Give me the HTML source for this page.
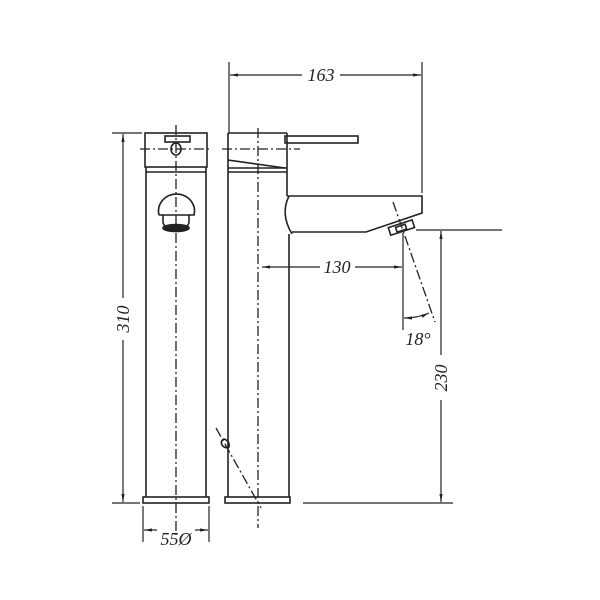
<!DOCTYPE html>
<html><head><meta charset="utf-8"><style>
html,body{margin:0;padding:0;background:#fff;width:600px;height:600px;overflow:hidden}
svg{display:block}
text{font-family:"Liberation Serif",serif;font-style:italic;font-size:18px;fill:#222}
</style></head><body>
<svg width="600" height="600" viewBox="0 0 600 600" xmlns="http://www.w3.org/2000/svg">
<defs>
<marker id="a" viewBox="0 0 10 4" refX="10" refY="2" markerWidth="8" markerHeight="3.2" markerUnits="userSpaceOnUse" orient="auto-start-reverse"><path d="M0,0 L10,2 L0,4 Z" fill="#222"/></marker>
</defs>
<g stroke="#222" fill="none" stroke-width="1.6">
<rect x="145" y="133" width="62" height="34"/>
<line x1="146" y1="167" x2="146" y2="172"/><line x1="206" y1="167" x2="206" y2="172"/>
<line x1="146" y1="172" x2="206" y2="172"/>
<line x1="146" y1="172" x2="146" y2="497"/><line x1="206" y1="172" x2="206" y2="497"/>
<rect x="143" y="497" width="66" height="6"/>
<rect x="165" y="136" width="25" height="6"/>
<ellipse cx="176" cy="149" rx="5" ry="6"/>
<path d="M159,215 A18,17 0 1 1 194,215 L159,215"/>
<path d="M163,215 L163,222 Q163,228 176,228 Q189,228 189,222 L189,215"/>
<ellipse cx="176" cy="228" rx="13" ry="3.5" fill="#222"/>
<path d="M228,133 L287,133 M228,133 L228,160 L285,168"/>
<line x1="287" y1="133" x2="287" y2="196"/>
<line x1="228" y1="160" x2="228" y2="497"/>
<line x1="228" y1="168" x2="287" y2="168"/>
<line x1="228" y1="172" x2="287" y2="172"/>
<rect x="285" y="136" width="73" height="7"/>
<path d="M287,196 L422,196 L422,213 L366,232 L292,232"/>
<path d="M289,196 Q280,214 292,234"/>
<line x1="289" y1="234" x2="289" y2="497"/>
<g transform="rotate(-18 400 228)"><rect x="389" y="224" width="25" height="8"/><rect x="396" y="226" width="10" height="5"/></g>
<rect x="225" y="497" width="65" height="6"/>
<path d="M222,445 q-2,-4 2,-6 q6,2 5,8 q-4,2 -7,-2"/>
</g>
<g stroke="#222" fill="none" stroke-width="1.3" stroke-dasharray="10,3,2,3">
<line x1="176" y1="125" x2="176" y2="535"/>
<line x1="140" y1="149" x2="212" y2="149"/>
<line x1="258" y1="128" x2="258" y2="528"/>
<line x1="222" y1="149" x2="300" y2="149"/>
<line x1="393" y1="202" x2="435" y2="322"/>
<line x1="216" y1="428" x2="261" y2="508"/>
</g>
<g stroke="#222" fill="none" stroke-width="1.2">
<line x1="229" y1="62" x2="229" y2="133"/><line x1="422" y1="62" x2="422" y2="193"/>
<line x1="230" y1="75" x2="302" y2="75" marker-start="url(#a)"/>
<line x1="340" y1="75" x2="421" y2="75" marker-end="url(#a)"/>
<line x1="112" y1="133" x2="142" y2="133"/><line x1="112" y1="503" x2="140" y2="503"/>
<line x1="123" y1="134" x2="123" y2="298" marker-start="url(#a)"/>
<line x1="123" y1="340" x2="123" y2="502" marker-end="url(#a)"/>
<line x1="262" y1="267" x2="320" y2="267" marker-start="url(#a)"/>
<line x1="355" y1="267" x2="402" y2="267" marker-end="url(#a)"/>
<line x1="403" y1="233" x2="403" y2="330"/>
<line x1="416" y1="230" x2="502" y2="230"/>
<line x1="441" y1="231" x2="441" y2="355" marker-start="url(#a)"/>
<line x1="441" y1="400" x2="441" y2="502" marker-end="url(#a)"/>
<line x1="303" y1="503" x2="453" y2="503"/>
<line x1="143" y1="506" x2="143" y2="542"/><line x1="209" y1="506" x2="209" y2="542"/>
<line x1="144" y1="530" x2="157" y2="530" marker-start="url(#a)"/>
<line x1="195" y1="530" x2="208" y2="530" marker-end="url(#a)"/>
<path d="M404,318 Q418,318 429,313" marker-start="url(#a)" marker-end="url(#a)"/>
</g>
<text x="321" y="81" text-anchor="middle">163</text>
<text x="337" y="273" text-anchor="middle">130</text>
<text x="176" y="545" text-anchor="middle">55Ø</text>
<text x="418" y="345" text-anchor="middle">18°</text>
<text transform="translate(129,319) rotate(-90)" text-anchor="middle">310</text>
<text transform="translate(447,378) rotate(-90)" text-anchor="middle">230</text>
</svg>
</body></html>
